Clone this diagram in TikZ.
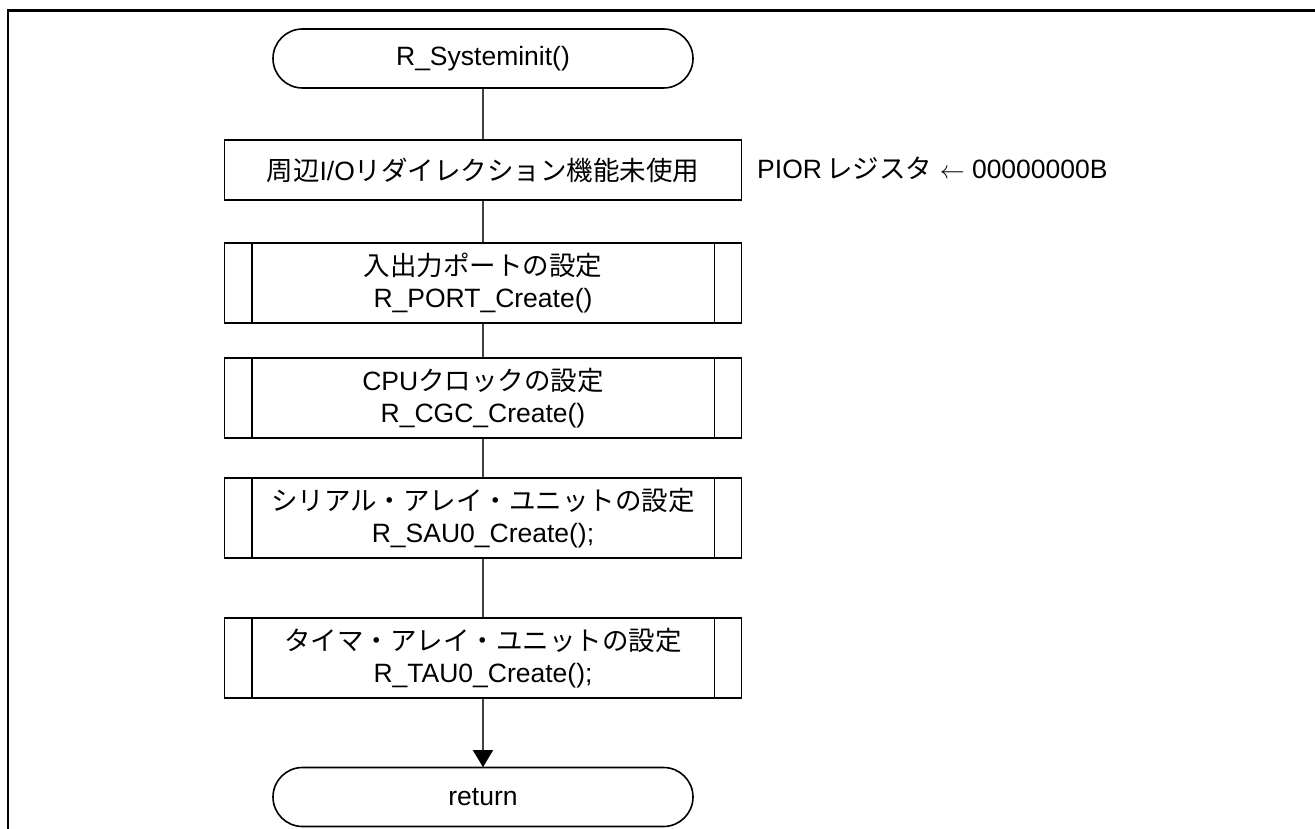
\documentclass[tikz,border=0pt]{standalone}
\usepackage{fontspec}
\setmainfont{Liberation Sans}
\newfontfamily\jp{Noto Sans CJK JP}
\usetikzlibrary{arrows.meta,calc}
\begin{document}
\begin{tikzpicture}[x=1pt,y=-1pt,
  box/.style={draw,line width=1.6pt,rectangle,minimum width=517pt,align=center,
    font=\fontsize{26.5}{32}\selectfont,inner sep=0pt},
  term/.style={box,rounded corners=29.5pt,minimum width=420pt,minimum height=59pt},
  procbox/.style={box,minimum height=60pt},
  subbox/.style={box,minimum height=80pt},
  conn/.style={line width=1.1pt,black!75},
  note/.style={font=\fontsize{26.5}{32}\selectfont,inner sep=0pt,anchor=west}
]
\useasboundingbox (0,0) rectangle (1315,829);
% frame
\draw[line width=2.4pt] (8,829) -- (8,10.5) -- (1315,10.5);

\node[term] (start) at (483,58.5) {R\_Systeminit()};
\node[procbox] (b1) at (483,170) {{\jp 周辺}I/O{\jp リダイレクション機能未使用}};
\node[note] (pior) at (757,168) {PIOR\,{\jp レジスタ} $\leftarrow$ 00000000B};
\node[subbox] (port) at (483,283) {{\jp 入出力ポートの設定}\\R\_PORT\_Create()};
\node[subbox] (cgc) at (483,398) {CPU{\jp クロックの設定}\\R\_CGC\_Create()};
\node[subbox] (sau) at (483,518) {{\jp シリアル・アレイ・ユニットの設定}\\R\_SAU0\_Create();};
\node[subbox] (tau) at (483,658) {{\jp タイマ・アレイ・ユニットの設定}\\R\_TAU0\_Create();};
\node[term] (ret) at (483,797) {return};

\foreach \n in {port,cgc,sau,tau}{
  \draw[line width=1.6pt] ($(\n.north west)+(28,0)$) -- ($(\n.south west)+(28,0)$);
  \draw[line width=1.6pt] ($(\n.north east)+(-28,0)$) -- ($(\n.south east)+(-28,0)$);
}

\draw[conn] (start) -- (b1);
\draw[conn] (b1) -- (port);
\draw[conn] (port) -- (cgc);
\draw[conn] (cgc) -- (sau);
\draw[conn] (sau) -- (tau);
\draw[conn,-{Triangle[length=17pt,width=20pt,color=black,fill=black]},shorten >=-0.5pt] (tau) -- (ret);
\end{tikzpicture}
\end{document}
